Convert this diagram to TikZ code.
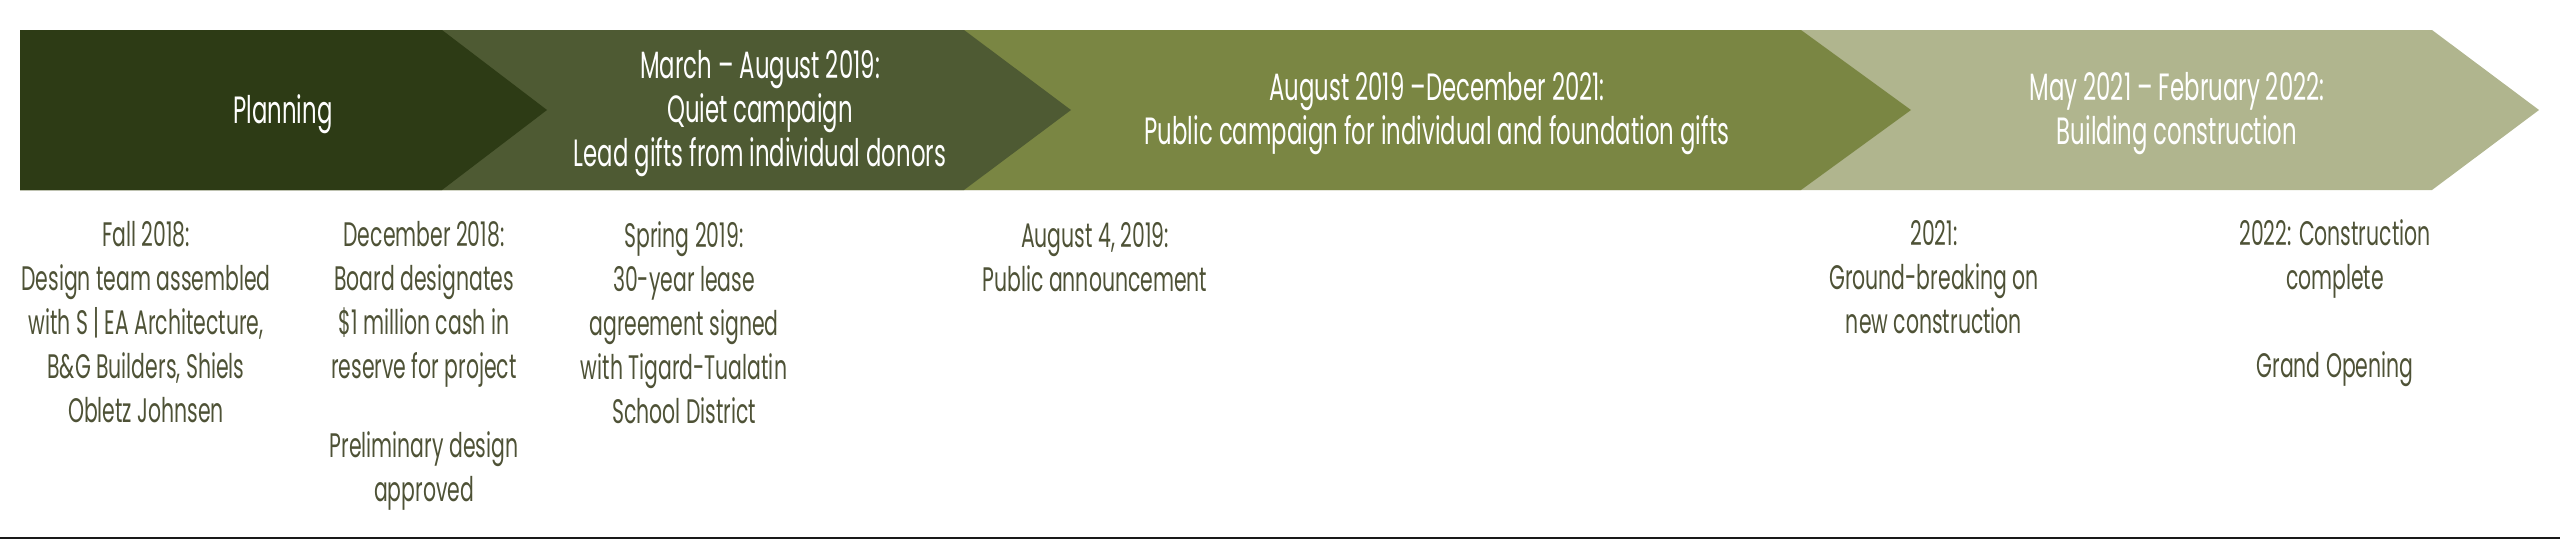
\documentclass[tikz,border=0pt]{standalone}
\usepackage{fontspec}
\setmainfont{Poppins}[FakeStretch=0.6]
\definecolor{segA}{HTML}{2D3B15}
\definecolor{segB}{HTML}{4E5A33}
\definecolor{segC}{HTML}{7A8643}
\definecolor{segD}{HTML}{B0B58E}
\definecolor{notecol}{HTML}{4E5236}
\newcommand\firststrut{\rule{0pt}{28pt}}
\newcommand\bandstrut{\rule{0pt}{30pt}}
\begin{document}
\begin{tikzpicture}[x=1pt,y=-1pt,
  txt/.style={inner sep=0pt, align=center, anchor=north},
  bandtext/.style={txt, text=white, font=\fontsize{38}{44}\selectfont},
  notetext/.style={txt, text=notecol, font=\fontsize{34}{44}\selectfont}]
\useasboundingbox (0,0) rectangle (2560,544);
% chevron band, later segments drawn first
\fill[segD] (20,30) -- (2432,30) -- (2539,110) -- (2432,190) -- (20,190) -- cycle;
\fill[segC] (20,30) -- (1801,30) -- (1911,110) -- (1801,190) -- (20,190) -- cycle;
\fill[segB] (20,30) -- (964,30) -- (1071,110) -- (964,190) -- (20,190) -- cycle;
\fill[segA] (20,30) -- (442,30) -- (547,110) -- (442,190) -- (20,190) -- cycle;
% band labels
\node[bandtext] (plan) at (283,93) {\bandstrut Planning};
\node[bandtext] (quiet) at (760,48) {\bandstrut March – August 2019:\\Quiet campaign\\Lead gifts from individual donors};
\node[bandtext] (public) at (1437,70) {\bandstrut August 2019 –December 2021:\\Public campaign for individual and foundation gifts};
\node[bandtext] (build) at (2177,70) {\bandstrut May 2021 – February 2022:\\Building construction};
% notes
\node[notetext] (fall) at (146,218) {\firststrut Fall 2018:\\Design team assembled\\with S | EA Architecture,\\B\&G Builders, Shiels\\Obletz Johnsen};
\node[notetext] (dec) at (424,218) {\firststrut December 2018:\\Board designates\\\$1 million cash in\\reserve for project\\[35pt]Preliminary design\\approved};
\node[notetext] (spring) at (684,219) {\firststrut Spring 2019:\\30-year lease\\agreement signed\\with Tigard-Tualatin\\School District};
\node[notetext] (aug) at (1095,219) {\firststrut August 4, 2019:\\Public announcement};
\node[notetext] (ground) at (1934,217) {\firststrut 2021:\\Ground-breaking on\\new construction};
\node[notetext] (done) at (2335,217) {\firststrut 2022: Construction\\complete\\[44pt]Grand Opening};
% bottom rule
\coordinate (ruleL) at (0,538);
\coordinate (ruleR) at (2560,538);
\draw[line width=2.5pt, color=black!90] (ruleL) -- (ruleR);
\end{tikzpicture}
\end{document}
